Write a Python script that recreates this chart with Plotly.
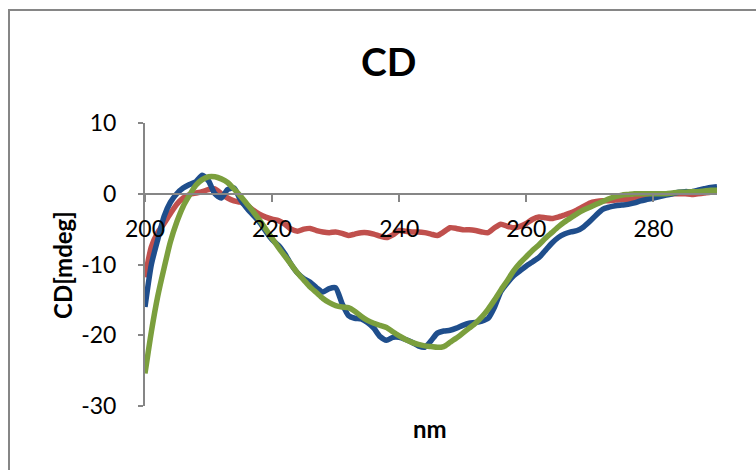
import plotly.graph_objects as go

wavelength = list(range(200, 291))

series_blue = [
    -16.0, -10.0, -6.5, -3.2, -1.2, 0.0, 0.8, 1.3, 1.7, 2.6,
    1.8, 0.0, -0.6, 0.6, 0.8, -0.8, -2.0, -3.0, -4.0, -5.3,
    -6.5, -7.3, -8.5, -10.0, -11.2, -12.0, -12.5, -13.3, -13.9, -13.4,
    -13.3, -15.5, -17.2, -17.6, -17.7, -18.2, -19.0, -20.2, -20.7, -20.3,
    -20.3, -20.6, -21.0, -21.5, -21.7, -20.8, -19.7, -19.4, -19.3, -19.0,
    -18.6, -18.3, -18.2, -18.0, -17.6, -16.0, -13.8, -12.6, -11.6, -10.9,
    -10.2, -9.6, -9.0, -8.0, -7.0, -6.2, -5.7, -5.4, -5.2, -4.7,
    -3.9, -3.0, -2.2, -1.9, -1.7, -1.6, -1.5, -1.3, -1.0, -0.8,
    -0.6, -0.4, -0.2, 0.0, 0.2, 0.3, 0.3, 0.5, 0.7, 0.9,
    1.0,
]

series_red = [
    -11.8, -7.5, -5.5, -4.2, -2.8, -1.5, -0.6, -0.1, 0.1, 0.3,
    0.6, 0.7, 0.0, -0.6, -1.0, -1.2, -1.6, -2.3, -2.9, -3.3,
    -3.6, -3.8, -4.3, -5.0, -5.3, -5.0, -4.9, -5.2, -5.4, -5.5,
    -5.4, -5.6, -5.9, -5.7, -5.5, -5.5, -5.7, -6.0, -6.2, -5.8,
    -5.2, -5.3, -5.4, -5.4, -5.5, -5.7, -5.9, -5.4, -4.8, -4.9,
    -5.1, -5.1, -5.2, -5.4, -5.5, -4.8, -4.3, -4.6, -4.8, -4.6,
    -4.2, -3.6, -3.3, -3.4, -3.5, -3.3, -3.0, -2.7, -2.3, -1.8,
    -1.3, -1.1, -1.0, -1.0, -0.9, -0.8, -0.8, -0.7, -0.6, -0.4,
    -0.2, 0.0, 0.0, 0.0, 0.0, 0.0, -0.1, 0.0, 0.1, 0.2,
    0.2,
]

series_green = [
    -25.4, -19.5, -14.5, -10.5, -6.8, -4.0, -1.8, -0.2, 1.2, 2.0,
    2.4, 2.4, 2.1, 1.6, 0.7, -0.3, -1.4, -2.5, -3.7, -5.0,
    -6.3, -7.6, -8.8, -10.0, -11.2, -12.2, -13.2, -14.0, -14.8, -15.4,
    -15.8, -16.0, -16.1, -16.6, -17.3, -17.9, -18.3, -18.6, -18.9, -19.5,
    -20.1, -20.6, -21.0, -21.3, -21.5, -21.6, -21.7, -21.6, -21.0, -20.4,
    -19.7, -19.0, -18.3, -17.4, -16.3, -15.0, -13.6, -12.3, -10.9, -9.8,
    -8.9, -8.0, -7.2, -6.3, -5.5, -4.7, -4.0, -3.4, -2.8, -2.3,
    -1.9, -1.5, -1.1, -0.7, -0.4, -0.2, -0.1, 0.0, 0.0, 0.0,
    0.0, 0.0, 0.0, 0.1, 0.2, 0.2, 0.3, 0.3, 0.4, 0.5,
    0.5,
]

x_ticks = [200, 220, 240, 260, 280]
y_ticks = [-30, -20, -10, 0, 10]

W, H = 756, 470
ML, MR, MT, MB = 145, 39, 123, 64
PW, PH = W - ML - MR, H - MT - MB


def px(x):
    return (x - ML) / PW


def py(y):
    return (H - MB - y) / PH


FONT = "Lato"
AX = "#868686"

fig = go.Figure()
for name, ys, col in [
    ("red", series_red, "#C0504D"),
    ("blue", series_blue, "#1F4E8C"),
    ("green", series_green, "#7B9F3D"),
]:
    fig.add_trace(go.Scatter(
        x=wavelength, y=ys, mode="lines", name=name,
        line=dict(color=col, width=5.5, shape="spline", smoothing=0.6),
        showlegend=False, hoverinfo="skip",
    ))

fig.update_layout(
    width=W, height=H,
    margin=dict(l=ML, r=MR, t=MT, b=MB),
    paper_bgcolor="white", plot_bgcolor="white",
    font=dict(family=FONT, color="black"),
    showlegend=False,
    xaxis=dict(
        range=[200, 290], tickvals=x_ticks, ticktext=[str(v) for v in x_ticks],
        showgrid=False, zeroline=False, showline=True, linecolor=AX, linewidth=2,
        anchor="free", position=0.75,
        ticks="outside", ticklen=7, tickwidth=2, tickcolor=AX,
        tickfont=dict(size=23, family=FONT, color="black"),
        ticklabelstandoff=8,
    ),
    yaxis=dict(
        range=[-30, 10], tickvals=y_ticks, ticktext=[str(v) for v in y_ticks],
        showgrid=False, zeroline=False, showline=True, linecolor=AX, linewidth=2,
        ticks="outside", ticklen=5, tickwidth=2, tickcolor=AX,
        tickfont=dict(size=23, family=FONT, color="black"),
        ticklabelstandoff=17,
    ),
)

# outer chart frame
fig.add_shape(type="rect", xref="paper", yref="paper",
              x0=px(9), y0=py(H + 40), x1=px(W + 40), y1=py(10),
              line=dict(color=AX, width=2), fillcolor="rgba(0,0,0,0)", layer="below")

fig.add_annotation(text="<b>CD</b>", xref="paper", yref="paper",
                   x=px(388), y=py(61), showarrow=False,
                   xanchor="center", yanchor="middle",
                   font=dict(size=39, family=FONT, color="black"))
fig.add_annotation(text="<b>nm</b>", xref="paper", yref="paper",
                   x=px(430), y=py(428), showarrow=False,
                   xanchor="center", yanchor="middle",
                   font=dict(size=24, family=FONT, color="black"))
fig.add_annotation(text="<b>CD[mdeg]</b>", xref="paper", yref="paper",
                   x=px(62), y=py(265), showarrow=False, textangle=-90,
                   xanchor="center", yanchor="middle",
                   font=dict(size=24, family=FONT, color="black"))

fig.write_html("out.html")
